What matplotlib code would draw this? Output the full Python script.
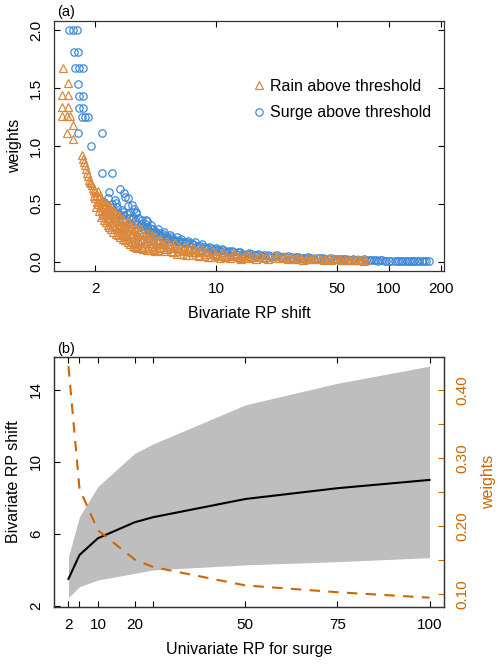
import matplotlib
matplotlib.use("Agg")
import matplotlib.pyplot as plt
import numpy as np

plt.rcParams["font.family"] = ["Liberation Sans", "DejaVu Sans"]

# ---- panel (a): weights vs bivariate RP shift, pairs of (rp shift, weight) ----
RAIN = np.array([
    (1.30, 1.67), (1.39, 1.545), (1.28, 1.44), (1.38, 1.44), (1.28, 1.34),
    (1.38, 1.34), (1.28, 1.26), (1.36, 1.26), (1.43, 1.26), (1.49, 1.18),
    (1.37, 1.11), (1.49, 1.06),
    (1.67, 0.92), (1.69, 0.89), (1.71, 0.865), (1.73, 0.84), (1.76, 0.80),
    (1.79, 0.77), (1.81, 0.74), (1.84, 0.71), (1.86, 0.69), (1.89, 0.68),
    (1.92, 0.66), (1.94, 0.64), (1.96, 0.62), (1.98, 0.60), (1.95, 0.57),
    (2.00, 0.55), (2.03, 0.58), (2.05, 0.52), (2.08, 0.50), (2.10, 0.55),
    (2.12, 0.47), (2.15, 0.52), (2.18, 0.45), (2.20, 0.49), (2.22, 0.42),
    (2.25, 0.47), (2.28, 0.40), (2.30, 0.44), (2.33, 0.38), (2.36, 0.42),
    (2.40, 0.36), (2.42, 0.45), (2.45, 0.34), (2.48, 0.40), (2.50, 0.32),
    (2.55, 0.38), (2.58, 0.30), (2.60, 0.43), (2.65, 0.28), (2.68, 0.35),
    (2.72, 0.40), (2.75, 0.26), (2.80, 0.32), (2.85, 0.24), (2.90, 0.37),
    (2.95, 0.29), (3.00, 0.22), (3.05, 0.34), (3.10, 0.20), (3.15, 0.27),
    (3.20, 0.31), (3.25, 0.18), (3.30, 0.24), (3.35, 0.16), (3.40, 0.29),
    (3.45, 0.21), (3.50, 0.14), (3.60, 0.26), (3.65, 0.19), (3.70, 0.13),
    (3.80, 0.23), (3.90, 0.16), (4.00, 0.12), (4.10, 0.25), (4.20, 0.19),
    (4.30, 0.11), (4.40, 0.22), (4.50, 0.15), (4.60, 0.10), (4.75, 0.20),
    (4.90, 0.13), (5.00, 0.09), (5.20, 0.18), (5.40, 0.12), (5.60, 0.08),
    (5.80, 0.16), (6.00, 0.11), (6.30, 0.07), (6.50, 0.14), (6.80, 0.09),
    (7.00, 0.06), (7.30, 0.12), (7.60, 0.08), (8.00, 0.05), (8.30, 0.11),
    (8.70, 0.07), (9.00, 0.045), (9.50, 0.09), (10.0, 0.06), (10.5, 0.035),
    (11.0, 0.08), (11.5, 0.05), (12.0, 0.03), (12.7, 0.07), (13.5, 0.045),
    (14.0, 0.025), (15.0, 0.065), (16.0, 0.04), (17.0, 0.02), (18.0, 0.06),
    (19.0, 0.035), (20.0, 0.02), (21.5, 0.055), (23.0, 0.03), (24.5, 0.05),
    (26.0, 0.02), (28.0, 0.045), (30.0, 0.03), (32.0, 0.015), (34.0, 0.04),
    (36.0, 0.025), (39.0, 0.035), (42.0, 0.015), (45.0, 0.03), (48.0, 0.02),
    (52.0, 0.025), (55.0, 0.012), (58.0, 0.02), (62.0, 0.015), (66.0, 0.02),
    (70.0, 0.012), (74.0, 0.015),
    (2.30, 0.50), (2.40, 0.47), (2.60, 0.36), (2.70, 0.31), (2.90, 0.26),
    (3.00, 0.30), (3.10, 0.35), (3.30, 0.27), (3.50, 0.23), (3.70, 0.20),
    (3.90, 0.25), (4.00, 0.18), (4.30, 0.16), (4.60, 0.17), (5.00, 0.15),
    (5.50, 0.14), (6.00, 0.09), (7.00, 0.10), (8.00, 0.08), (2.20, 0.40),
    (2.50, 0.42), (2.80, 0.28), (3.20, 0.22), (3.60, 0.16), (4.20, 0.14),
    (2.02, 0.47), (2.06, 0.61), (2.09, 0.44), (2.13, 0.57), (2.16, 0.39),
    (2.19, 0.53), (2.23, 0.36), (2.26, 0.50), (2.29, 0.34), (2.32, 0.46),
    (2.35, 0.32), (2.38, 0.49), (2.41, 0.30), (2.44, 0.38), (2.47, 0.28),
    (2.52, 0.45), (2.54, 0.26), (2.57, 0.34), (2.62, 0.24), (2.66, 0.40),
    (2.69, 0.23), (2.73, 0.29), (2.77, 0.21), (2.82, 0.36), (2.87, 0.20),
    (2.92, 0.31), (2.97, 0.19), (3.02, 0.27), (3.07, 0.17), (3.12, 0.31),
    (3.18, 0.15), (3.23, 0.25), (3.28, 0.14), (3.33, 0.33), (3.38, 0.13),
    (3.43, 0.24), (3.48, 0.12), (3.55, 0.20), (3.62, 0.12), (3.68, 0.28),
    (3.75, 0.11), (3.85, 0.18), (3.95, 0.10), (4.05, 0.21), (4.15, 0.10),
    (4.25, 0.23), (4.35, 0.13), (4.45, 0.09), (4.55, 0.19), (4.70, 0.12),
    (4.85, 0.17), (5.10, 0.11), (5.30, 0.15), (5.50, 0.09), (5.70, 0.13),
    (5.90, 0.07), (6.20, 0.12), (6.40, 0.10), (6.70, 0.06), (6.90, 0.12),
    (7.20, 0.08), (7.50, 0.10), (7.80, 0.06), (8.20, 0.09), (8.50, 0.05),
    (8.90, 0.08), (9.30, 0.04), (9.80, 0.07), (10.3, 0.05), (10.8, 0.06),
    (11.3, 0.04), (12.3, 0.05), (13.0, 0.06), (13.8, 0.035), (14.5, 0.05),
    (15.5, 0.03), (16.5, 0.05), (17.5, 0.04), (19.5, 0.045), (22.0, 0.035),
    (25.0, 0.03), (27.0, 0.035), (29.0, 0.02), (31.0, 0.035), (33.0, 0.025),
    (35.0, 0.02), (37.0, 0.03), (40.0, 0.02), (43.0, 0.025), (46.0, 0.015),
    (50.0, 0.02), (53.0, 0.015), (56.0, 0.018), (60.0, 0.012), (64.0, 0.015),
    (68.0, 0.015), (72.0, 0.010),
])

SURGE = np.array([
    (1.40, 2.00), (1.48, 2.00), (1.57, 2.00), (1.50, 1.81), (1.58, 1.81),
    (1.52, 1.67), (1.60, 1.67), (1.70, 1.67), (1.58, 1.54), (1.60, 1.43),
    (1.69, 1.43), (1.60, 1.33), (1.69, 1.33), (1.66, 1.25), (1.73, 1.25),
    (1.81, 1.25), (1.58, 1.11), (2.18, 1.11), (1.89, 1.00),
    (2.19, 0.77), (2.50, 0.77), (2.39, 0.60), (2.79, 0.63), (2.94, 0.59),
    (2.98, 0.56), (3.07, 0.55), (2.61, 0.535), (2.64, 0.51), (2.84, 0.45),
    (2.88, 0.43), (3.08, 0.48), (3.16, 0.43), (2.79, 0.40), (3.26, 0.49),
    (3.35, 0.46), (3.42, 0.43), (3.45, 0.42), (3.30, 0.39), (3.90, 0.36),
    (3.98, 0.35), (4.29, 0.28), (4.48, 0.26), (4.68, 0.25), (5.10, 0.20),
    (5.55, 0.19), (2.25, 0.52), (2.45, 0.47), (2.55, 0.44), (2.70, 0.42),
    (2.60, 0.38), (3.00, 0.36), (3.20, 0.33), (3.50, 0.33), (3.60, 0.30),
    (3.70, 0.36), (3.80, 0.28), (4.00, 0.30), (4.10, 0.25), (4.20, 0.32),
    (4.40, 0.23), (4.60, 0.28), (4.80, 0.22), (5.00, 0.26), (5.20, 0.21),
    (5.40, 0.23), (5.70, 0.18), (5.90, 0.21), (6.10, 0.17), (6.30, 0.20),
    (6.60, 0.16), (6.90, 0.18), (7.20, 0.15), (7.50, 0.17), (7.90, 0.13),
    (8.30, 0.15), (8.70, 0.12), (9.10, 0.13), (9.60, 0.10), (10.0, 0.12),
    (10.5, 0.09), (11.0, 0.10), (11.6, 0.08), (12.3, 0.095), (13.0, 0.07),
    (13.8, 0.085), (14.6, 0.06), (15.5, 0.075), (16.5, 0.055), (17.5, 0.07),
    (18.5, 0.05), (20.0, 0.06), (21.0, 0.045), (22.5, 0.055), (24.0, 0.04),
    (26.0, 0.05), (28.0, 0.035), (30.0, 0.045), (32.0, 0.03), (34.0, 0.04),
    (37.0, 0.028), (40.0, 0.035), (43.0, 0.025), (46.0, 0.03), (50.0, 0.02),
    (54.0, 0.028), (58.0, 0.018), (62.0, 0.022), (67.0, 0.015), (72.0, 0.02),
    (77.0, 0.012), (82.0, 0.015), (87.0, 0.010), (92.0, 0.012), (97.0, 0.008),
    (103.0, 0.010), (108.0, 0.008), (114.0, 0.010), (120.0, 0.007),
    (127.0, 0.009), (134.0, 0.006), (141.0, 0.008), (150.0, 0.006),
    (160.0, 0.007), (170.0, 0.006),
    (4.50, 0.17), (6.00, 0.12), (7.00, 0.10), (9.00, 0.08), (12.0, 0.06),
    (16.0, 0.04),
    (2.35, 0.55), (2.48, 0.50), (2.68, 0.47), (2.90, 0.40), (3.05, 0.41),
    (3.12, 0.38), (3.25, 0.37), (3.40, 0.35), (3.55, 0.38), (3.65, 0.33),
    (3.75, 0.31), (3.85, 0.33), (3.95, 0.29), (4.05, 0.27), (4.15, 0.29),
    (4.30, 0.26), (4.45, 0.25), (4.55, 0.24), (4.70, 0.23), (4.90, 0.24),
    (5.05, 0.22), (5.30, 0.20), (5.50, 0.21), (5.65, 0.20), (5.80, 0.19),
    (6.00, 0.18), (6.20, 0.18), (6.45, 0.17), (6.70, 0.17), (7.00, 0.16),
    (7.35, 0.15), (7.70, 0.14), (8.10, 0.14), (8.50, 0.13), (8.90, 0.12),
    (9.40, 0.12), (9.80, 0.11), (10.2, 0.10), (10.8, 0.11), (11.3, 0.09),
    (11.9, 0.09), (12.6, 0.08), (13.4, 0.08), (14.2, 0.07), (15.0, 0.065),
    (16.0, 0.07), (17.0, 0.06), (18.0, 0.055), (19.0, 0.06), (20.5, 0.05),
    (22.0, 0.05), (23.5, 0.045), (25.0, 0.045), (27.0, 0.04), (29.0, 0.04),
    (31.0, 0.035), (33.0, 0.035), (35.5, 0.03), (38.5, 0.03), (41.5, 0.03),
    (44.5, 0.025), (48.0, 0.025), (52.0, 0.022), (56.0, 0.02), (60.0, 0.018),
    (64.0, 0.018), (69.0, 0.016), (74.0, 0.014), (79.0, 0.013), (84.0, 0.012),
    (89.0, 0.011), (95.0, 0.010), (100.0, 0.009), (111.0, 0.009),
    (117.0, 0.008), (124.0, 0.008), (131.0, 0.007), (138.0, 0.007),
    (145.0, 0.006), (155.0, 0.006), (165.0, 0.006),
    (3.50, 0.22), (4.00, 0.20), (5.00, 0.15), (6.50, 0.11), (8.00, 0.09),
    (10.0, 0.07), (14.0, 0.05),
])

# ---- panel (b): bivariate RP shift vs univariate RP for surge ----
rp_surge = [2, 5, 10, 20, 25, 50, 75, 100]
shift_mid = [3.5, 4.83, 5.76, 6.65, 6.93, 7.94, 8.54, 9.0]
shift_lo = [2.46, 3.07, 3.44, 3.81, 4.0, 4.28, 4.46, 4.68]
shift_hi = [4.74, 6.96, 8.63, 10.48, 11.0, 13.17, 14.37, 15.32]
weight_b = [0.435, 0.255, 0.194, 0.151, 0.140, 0.113, 0.103, 0.095]

ORANGE_PT = "#D9883D"
BLUE_PT = "#3F8AD8"
ORANGE_LN = "#CD6600"
FS = 11.5

fig = plt.figure(figsize=(5, 6.65), dpi=100)
ax_a = fig.add_axes([54 / 500, 1 - 271 / 665, 390 / 500, 250 / 665])
ax_b = fig.add_axes([54 / 500, 1 - 607 / 665, 390 / 500, 250 / 665])

# panel (a)
h_s, = ax_a.plot(SURGE[:, 0], SURGE[:, 1], ls="none", marker="o", ms=5.3,
                 mfc="none", mec=BLUE_PT, mew=0.9)
h_r, = ax_a.plot(RAIN[:, 0], RAIN[:, 1], ls="none", marker="^", ms=6,
                 mfc="none", mec=ORANGE_PT, mew=0.9)
ax_a.set_xscale("log")
ax_a.set_xlim(1.15, 209)
ax_a.set_ylim(-0.08, 2.08)
ax_a.set_xticks([2, 10, 50, 100, 200])
ax_a.set_xticklabels(["2", "10", "50", "100", "200"])
ax_a.xaxis.set_minor_locator(matplotlib.ticker.NullLocator())
ax_a.set_yticks([0, 0.5, 1.0, 1.5, 2.0])
ax_a.set_yticklabels(["0.0", "0.5", "1.0", "1.5", "2.0"],
                     rotation=90, va="center")
ax_a.set_xlabel("Bivariate RP shift", fontsize=FS, labelpad=7)
ax_a.set_ylabel("weights", fontsize=FS)
ax_a.yaxis.set_label_coords(-0.082, 0.5)
ax_a.legend([h_r, h_s], ["Rain above threshold", "Surge above threshold"],
            loc="center left", bbox_to_anchor=(0.504, 0.686), frameon=False,
            fontsize=FS, handlelength=1.0, handletextpad=0.2,
            borderpad=0, borderaxespad=0, labelspacing=0.75)

# panel (b)
ax_b.fill_between(rp_surge, shift_lo, shift_hi, color="#BEBEBE", lw=0)
ax_b.plot(rp_surge, shift_mid, color="black", lw=1.5)
ax_b.set_xlim(-1.92, 103.92)
ax_b.set_ylim(1.94, 15.83)
ax_b.set_xticks(rp_surge)
ax_b.set_xticklabels(["2", "", "10", "20", "", "50", "75", "100"])
ax_b.set_yticks([2, 6, 10, 14])
ax_b.set_yticklabels(["2", "6", "10", "14"], rotation=90, va="center")
ax_b.set_xlabel("Univariate RP for surge", fontsize=FS, labelpad=7)
ax_b.set_ylabel("Bivariate RP shift", fontsize=FS)
ax_b.yaxis.set_label_coords(-0.085, 0.5)

ax_w = ax_b.twinx()
ax_w.plot(rp_surge, weight_b, color=ORANGE_LN, lw=1.5, ls=(0, (5, 4)))
ax_w.set_ylim(0.0813, 0.4485)
ax_w.set_yticks([0.10, 0.15, 0.20, 0.25, 0.30, 0.35, 0.40])
ax_w.set_yticklabels(["0.10", "", "0.20", "", "0.30", "", "0.40"],
                     rotation=90, va="center")
ax_w.set_ylabel("weights", fontsize=FS, color=ORANGE_LN)
ax_w.yaxis.set_label_coords(1.095, 0.5)
ax_w.tick_params(axis="y", direction="in", length=4, color=ORANGE_LN,
                 labelcolor=ORANGE_LN, labelsize=FS - 0.5, pad=8)

for ax, right in ((ax_a, True), (ax_b, False)):
    ax.tick_params(axis="both", which="both", direction="in", length=4,
                   top=True, right=right, labelsize=FS - 0.5, pad=8)
    for sp in ax.spines.values():
        sp.set_linewidth(0.9)
        sp.set_color("#333333")
for sp in ax_w.spines.values():
    sp.set_linewidth(0.9)
    sp.set_color("#333333")

fig.text(57 / 500, 1 - 12 / 665, "(a)", fontsize=FS - 1, va="center")
fig.text(57 / 500, 1 - 349 / 665, "(b)", fontsize=FS - 1, va="center")

fig.savefig("out.png", dpi=100)
